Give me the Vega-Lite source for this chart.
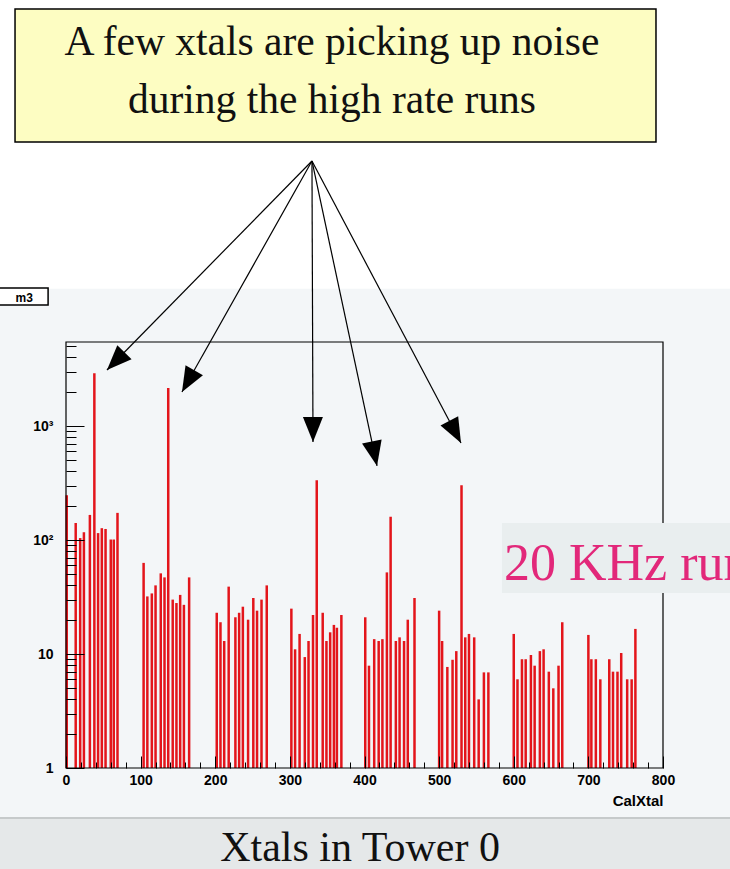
{
  "$schema": "https://vega.github.io/schema/vega-lite/v6.json",
  "width": 597,
  "height": 426,
  "autosize": {"type": "none"},
  "padding": {"left": 66, "top": 342, "right": 67, "bottom": 101},
  "background": "#ffffff",
  "config": {"view": {"stroke": null}},
  "encoding": {
    "x": {
      "field": "x", "type": "quantitative",
      "scale": {"domain": [0, 800], "nice": false, "zero": false},
      "axis": {
        "title": "CalXtal",
        "values": [0,20,40,60,80,100,120,140,160,180,200,220,240,260,280,300,320,340,360,380,400,420,440,460,480,500,520,540,560,580,600,620,640,660,680,700,720,740,760,780,800],
        "labelExpr": "datum.value % 100 == 0 ? datum.label : ''",
        "tickSize": {"condition": {"test": "datum.value % 100 == 0", "value": -12}, "value": -6},
        "labelPadding": 17,
        "labelFlush": false,
        "labelOverlap": false,
        "domain": false,
        "grid": false,
        "tickColor": "#000000",
        "tickWidth": 1,
        "labelColor": "#000000",
        "labelFont": "Liberation Sans",
        "labelFontWeight": "bold",
        "labelFontSize": 14,
        "titleFont": "Liberation Sans",
        "titleFontWeight": "bold",
        "titleFontSize": 15,
        "titleColor": "#000000",
        "titleAnchor": "end",
        "titleAlign": "right",
        "titlePadding": 0,
        "zindex": 1
      }
    },
    "y": {
      "field": "y", "type": "quantitative",
      "scale": {"type": "log", "domain": [1, 5458], "nice": false},
      "axis": {
        "title": null,
        "values": [1,2,3,4,5,6,7,8,9,10,20,30,40,50,60,70,80,90,100,200,300,400,500,600,700,800,900,1000,2000,3000,4000,5000],
        "labelExpr": "datum.value == 1 ? '1' : datum.value == 10 ? '10' : datum.value == 100 ? '10²' : datum.value == 1000 ? '10³' : ''",
        "tickSize": {"condition": {"test": "datum.value == 1 || datum.value == 10 || datum.value == 100 || datum.value == 1000", "value": -18}, "value": -10},
        "labelPadding": 31,
        "labelOverlap": false,
        "labelBound": false,
        "domain": false,
        "grid": false,
        "tickColor": "#000000",
        "tickWidth": 1,
        "labelColor": "#000000",
        "labelFont": "Liberation Sans",
        "labelFontWeight": "bold",
        "labelFontSize": 14,
        "zindex": 1
      }
    }
  },
  "layer": [
    {
      "data": {"values": [{"x": -90, "x2": 900, "y": 0.364, "y2": 16000}]},
      "mark": {"type": "rect", "fill": "#f3f6f8"},
      "encoding": {"x2": {"field": "x2"}, "y2": {"field": "y2"}}
    },
    {
      "data": {"values": [{"x": -90, "x2": 900, "y": 0.05, "y2": 0.364}]},
      "mark": {"type": "rect", "fill": "#e5e8e9"},
      "encoding": {"x2": {"field": "x2"}, "y2": {"field": "y2"}}
    },
    {
      "data": {"values": [{"x": -90, "x2": 900, "y": 0.364}]},
      "mark": {"type": "rule", "stroke": "#c6cacb", "strokeWidth": 2},
      "encoding": {"x2": {"field": "x2"}}
    },
    {
      "data": {"values": [
        {"x": 1, "y": 247}, {"x": 13, "y": 141}, {"x": 19, "y": 104}, {"x": 24, "y": 117}, {"x": 32, "y": 166}, {"x": 38, "y": 2900}, {"x": 43, "y": 115}, {"x": 48, "y": 127}, {"x": 53, "y": 125}, {"x": 60, "y": 101}, {"x": 64, "y": 101}, {"x": 69, "y": 173},
        {"x": 104, "y": 63}, {"x": 109, "y": 32}, {"x": 115, "y": 34}, {"x": 120, "y": 40}, {"x": 127, "y": 51}, {"x": 132, "y": 47}, {"x": 137, "y": 2150}, {"x": 143, "y": 30}, {"x": 148, "y": 28}, {"x": 153, "y": 33}, {"x": 158, "y": 27}, {"x": 165, "y": 47},
        {"x": 202, "y": 23}, {"x": 207, "y": 19}, {"x": 212, "y": 13}, {"x": 218, "y": 39}, {"x": 227, "y": 21}, {"x": 232, "y": 23}, {"x": 237, "y": 26}, {"x": 244, "y": 20}, {"x": 251, "y": 31}, {"x": 256, "y": 24}, {"x": 262, "y": 30}, {"x": 269, "y": 40},
        {"x": 302, "y": 25}, {"x": 307, "y": 11}, {"x": 313, "y": 15}, {"x": 320, "y": 9.4}, {"x": 325, "y": 13}, {"x": 331, "y": 22}, {"x": 336, "y": 335}, {"x": 344, "y": 23}, {"x": 349, "y": 13}, {"x": 354, "y": 15.5}, {"x": 359, "y": 18}, {"x": 363, "y": 17}, {"x": 369, "y": 22},
        {"x": 401, "y": 21}, {"x": 406, "y": 7.9}, {"x": 413, "y": 13.5}, {"x": 419, "y": 13}, {"x": 424, "y": 13.5}, {"x": 430, "y": 52}, {"x": 435, "y": 160}, {"x": 442, "y": 13}, {"x": 447, "y": 14}, {"x": 453, "y": 13}, {"x": 458, "y": 20}, {"x": 467, "y": 31},
        {"x": 500, "y": 24}, {"x": 504, "y": 13}, {"x": 511, "y": 7.7}, {"x": 518, "y": 8.9}, {"x": 523, "y": 10.6}, {"x": 530, "y": 303}, {"x": 535, "y": 14}, {"x": 540, "y": 15}, {"x": 547, "y": 14}, {"x": 553, "y": 4}, {"x": 560, "y": 6.9}, {"x": 566, "y": 6.9},
        {"x": 600, "y": 15}, {"x": 605, "y": 6}, {"x": 611, "y": 9}, {"x": 616, "y": 9}, {"x": 623, "y": 9.8}, {"x": 628, "y": 7.9}, {"x": 635, "y": 10.6}, {"x": 640, "y": 11}, {"x": 647, "y": 7}, {"x": 653, "y": 5}, {"x": 660, "y": 7.9}, {"x": 665, "y": 19},
        {"x": 700, "y": 14.7}, {"x": 704, "y": 9}, {"x": 710, "y": 9}, {"x": 716, "y": 6}, {"x": 728, "y": 9}, {"x": 733, "y": 7}, {"x": 739, "y": 7}, {"x": 744, "y": 10.2}, {"x": 752, "y": 6}, {"x": 758, "y": 6}, {"x": 763, "y": 16.6}
      ]},
      "mark": {"type": "rule", "stroke": "#e3151b", "strokeWidth": 2.5},
      "encoding": {"y2": {"datum": 1}}
    },
    {
      "data": {"values": [{"x": 0, "x2": 800, "y": 1, "y2": 5458}]},
      "mark": {"type": "rect", "fill": null, "fillOpacity": 0, "stroke": "#000000", "strokeWidth": 1.2},
      "encoding": {"x2": {"field": "x2"}, "y2": {"field": "y2"}}
    },
    {
      "data": {"values": [{"x": -91, "x2": -24, "y": 11518, "y2": 16236}]},
      "mark": {"type": "rect", "fill": "#ffffff", "stroke": "#000000", "strokeWidth": 1.5},
      "encoding": {"x2": {"field": "x2"}, "y2": {"field": "y2"}}
    },
    {
      "data": {"values": [{"x": -56, "y": 13400, "label": "m3"}]},
      "mark": {"type": "text", "font": "Liberation Sans", "fontWeight": "bold", "fontSize": 12, "align": "center", "baseline": "middle", "color": "#000000"},
      "encoding": {"text": {"field": "label"}}
    },
    {
      "data": {"values": [{"x": -68.3, "x2": 790.6, "y": 309700, "y2": 4550000}]},
      "mark": {"type": "rect", "fill": "#fdfdc2", "stroke": "#000000", "strokeWidth": 1.5},
      "encoding": {"x2": {"field": "x2"}, "y2": {"field": "y2"}}
    },
    {
      "data": {"values": [
        {"x": 356.4, "y": 1800000, "label": "A few xtals are picking up noise"},
        {"x": 356.4, "y": 557000, "label": "during the high rate runs"}
      ]},
      "mark": {"type": "text", "font": "Liberation Serif", "fontSize": 41.5, "align": "center", "baseline": "alphabetic", "color": "#111111"},
      "encoding": {"text": {"field": "label"}}
    },
    {
      "data": {"values": [
        {"x": 329.6, "y": 211300, "x2": 54.9, "y2": 3098},
        {"x": 329.6, "y": 211300, "x2": 155.4, "y2": 1988},
        {"x": 329.6, "y": 211300, "x2": 331.0, "y2": 724},
        {"x": 329.6, "y": 211300, "x2": 416.8, "y2": 446},
        {"x": 329.6, "y": 211300, "x2": 529.3, "y2": 709}
      ]},
      "mark": {"type": "rule", "stroke": "#000000", "strokeWidth": 1.2},
      "encoding": {"x2": {"field": "x2"}, "y2": {"field": "y2"}}
    },
    {
      "data": {"values": [
        {"x": 54.9, "y": 3098, "ang": 224.4},
        {"x": 155.4, "y": 1988, "ang": 209.4},
        {"x": 331.0, "y": 724, "ang": 179.8},
        {"x": 416.8, "y": 446, "ang": 168.0},
        {"x": 529.3, "y": 709, "ang": 152.2}
      ]},
      "mark": {"type": "point", "shape": "M0,0L-0.4,1L0.4,1Z", "filled": true, "fill": "#000000", "stroke": null, "opacity": 1, "size": 2500},
      "encoding": {"angle": {"field": "ang", "type": "quantitative", "scale": null}}
    },
    {
      "data": {"values": [{"x": 584.2, "x2": 910, "y": 34.3, "y2": 141}]},
      "mark": {"type": "rect", "fill": "#e9eeef"},
      "encoding": {"x2": {"field": "x2"}, "y2": {"field": "y2"}}
    },
    {
      "data": {"values": [{"x": 586.9, "y": 44.6, "label": "20 KHz run"}]},
      "mark": {"type": "text", "font": "Liberation Serif", "fontSize": 52, "align": "left", "baseline": "alphabetic", "color": "#e2287a"},
      "encoding": {"text": {"field": "label"}}
    },
    {
      "data": {"values": [{"x": 394, "y": 0.153, "label": "Xtals in Tower 0"}]},
      "mark": {"type": "text", "font": "Liberation Serif", "fontSize": 42, "align": "center", "baseline": "alphabetic", "color": "#111111"},
      "encoding": {"text": {"field": "label"}}
    }
  ]
}
